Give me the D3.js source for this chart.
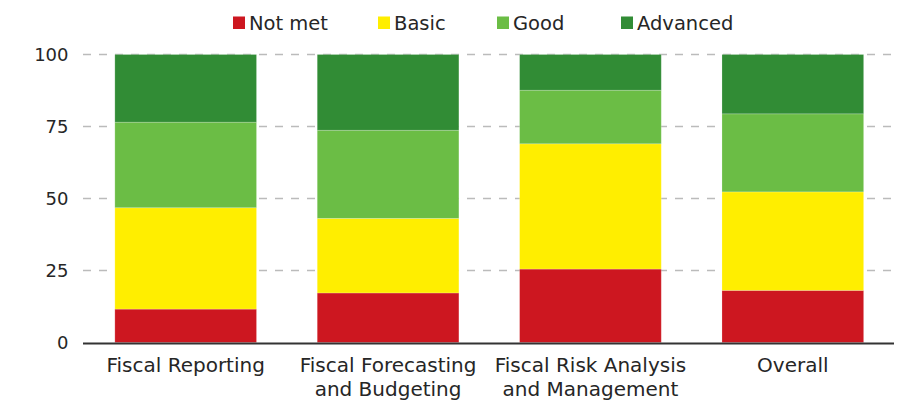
<!DOCTYPE html>
<html>
<head>
<meta charset="utf-8">
<script src="https://cdn.jsdelivr.net/npm/d3@7"></script>
<style>
  body { margin: 0; background: #fff; }
  text { font-family: "DejaVu Sans", sans-serif; fill: #262626; }
</style>
</head>
<body>
<div id="chart"></div>
<script>
// datos (porcentajes)
var categories = [["Fiscal Reporting"], ["Fiscal Forecasting", "and Budgeting"], ["Fiscal Risk Analysis", "and Management"], ["Overall"]]
var series = ["Not met", "Basic", "Good", "Advanced"]
var notMet   = [11.6, 17.2, 25.5, 18.1]
var basic    = [35.2, 25.9, 43.5, 34.2]
var good     = [29.7, 30.6, 18.6, 27.1]
var advanced = [23.5, 26.3, 12.4, 20.6]
var yTicks = [0, 25, 50, 75, 100]
var colors = ["#CD1720", "#FFEE00", "#6BBD45", "#318C35"]

var width = 902, height = 402
var margin = {top: 54.5, right: 8, bottom: 59.5, left: 84.5}

var rows = categories.map((c, i) => ({
    key: i, "Not met": notMet[i], "Basic": basic[i], "Good": good[i], "Advanced": advanced[i]
}))

var svg = d3.select("#chart").append("svg")
    .attr("width", width)
    .attr("height", height)

var x = d3.scaleBand()
    .domain(rows.map(d => d.key))
    .range([margin.left, width - margin.right])
    .paddingInner(0.3)
    .paddingOuter(0.15)

var y = d3.scaleLinear()
    .domain([0, 100])
    .range([height - margin.bottom, margin.top])

// lineas de rejilla
svg.append("g")
    .selectAll("line")
    .data(yTicks.filter(d => d > 0)).enter()
    .append("line")
    .attr("x1", margin.left - 1.5)
    .attr("x2", width - margin.right)
    .attr("y1", d => y(d))
    .attr("y2", d => y(d))
    .attr("stroke", "#bbb")
    .attr("stroke-width", 1.3)
    .attr("stroke-dasharray", "8,8")

// barras apiladas
var stack = d3.stack().keys(series)(rows)

svg.append("g")
    .selectAll("g")
    .data(stack).enter()
    .append("g")
    .attr("fill", (d, i) => colors[i])
    .selectAll("rect")
    .data(d => d).enter()
    .append("rect")
    .attr("x", d => x(d.data.key))
    .attr("y", d => y(d[1]))
    .attr("height", d => y(d[0]) - y(d[1]))
    .attr("width", x.bandwidth())
    .attr("stroke", "rgba(255,255,255,0.25)")
    .attr("stroke-width", 0.8)

// eje Y
var ejeY = d3.axisLeft(y).tickValues(yTicks).tickSize(0).tickPadding(16)
svg.append("g")
    .attr("transform", "translate(" + margin.left + ",0)")
    .call(ejeY)
    .call(g => g.select(".domain").remove())
    .selectAll("text")
    .style("font-family", "DejaVu Sans")
    .style("font-size", "18px")
    .attr("fill", "#262626")

// eje X
svg.append("line")
    .attr("x1", margin.left - 1.5)
    .attr("x2", width - margin.right)
    .attr("y1", y(0) + 1)
    .attr("y2", y(0) + 1)
    .attr("stroke", "#333")
    .attr("stroke-width", 2)

svg.append("g")
    .selectAll("text")
    .data(rows).enter()
    .append("text")
    .attr("text-anchor", "middle")
    .attr("x", d => x(d.key) + x.bandwidth() / 2)
    .attr("y", 372)
    .style("font-size", "20px")
    .selectAll("tspan")
    .data(d => categories[d.key]).enter()
    .append("tspan")
    .attr("x", function() { return this.parentNode.getAttribute("x") })
    .attr("dy", (d, i) => i == 0 ? 0 : 23.5)
    .text(d => d)

// leyenda
var legendX = [233, 378, 497, 621]
var legend = svg.append("g")
    .selectAll("g")
    .data(series).enter()
    .append("g")
    .attr("transform", (d, i) => "translate(" + legendX[i] + ",0)")

legend.append("rect")
    .attr("y", 16.5)
    .attr("width", 12)
    .attr("height", 12.5)
    .attr("fill", (d, i) => colors[i])

legend.append("text")
    .attr("x", 16)
    .attr("y", 29.5)
    .style("font-size", "19.5px")
    .text(d => d)
</script>
</body>
</html>
